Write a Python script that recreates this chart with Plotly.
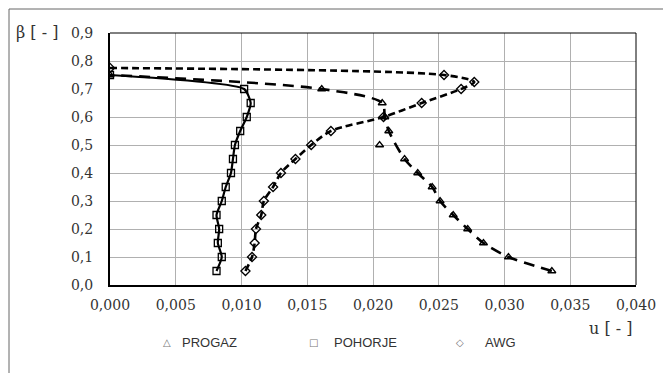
import plotly.graph_objects as go

beta = [0.05, 0.10, 0.15, 0.20, 0.25, 0.30, 0.35, 0.40, 0.45, 0.50, 0.55, 0.60, 0.65, 0.70, 0.75]

progaz_u = [0.0336, 0.0303, 0.0284, 0.0272, 0.0261, 0.0251, 0.0245, 0.0234, 0.0224, 0.0205, 0.0212, 0.0209, 0.0207, 0.0161, 0.0]
pohorje_u = [0.0081, 0.0085, 0.0082, 0.0083, 0.0081, 0.0085, 0.0088, 0.0092, 0.00935, 0.0095, 0.0099, 0.0104, 0.0107, 0.0102, 0.0]

awg_beta = [0.05, 0.10, 0.15, 0.20, 0.25, 0.30, 0.35, 0.40, 0.45, 0.50, 0.55, 0.60, 0.65, 0.70, 0.725, 0.75, 0.775]
awg_u = [0.0103, 0.0108, 0.0110, 0.0111, 0.0115, 0.0117, 0.0124, 0.0130, 0.0141, 0.0153, 0.0168, 0.0208, 0.0237, 0.0267, 0.0277, 0.0254, 0.0]

# PROGAZ line omits the off-curve point at beta = 0.5
progaz_line_skip = [0.50]

series_names = ["PROGAZ", "POHORJE", "AWG"]
legend_glyphs = ["△", "□", "◇"]

x_ticks = [0, 0.005, 0.010, 0.015, 0.020, 0.025, 0.030, 0.035, 0.040]
y_ticks = [0, 0.1, 0.2, 0.3, 0.4, 0.5, 0.6, 0.7, 0.8, 0.9]

SERIF = "DejaVu Serif"
SANS = "Liberation Sans"

fig = go.Figure()

pl = [(u, b) for u, b in zip(progaz_u, beta) if b not in progaz_line_skip]
fig.add_trace(go.Scatter(x=[p[0] for p in pl], y=[p[1] for p in pl], mode="lines",
                         line=dict(color="black", width=2.6, dash="11px,7px", shape="spline", smoothing=0.8),
                         showlegend=False, hoverinfo="skip"))
fig.add_trace(go.Scatter(x=pohorje_u, y=beta, mode="lines",
                         line=dict(color="black", width=2.2, shape="spline", smoothing=0.55),
                         showlegend=False, hoverinfo="skip"))
fig.add_trace(go.Scatter(x=awg_u, y=awg_beta, mode="lines",
                         line=dict(color="black", width=2.6, dash="7px,4px", shape="spline", smoothing=0.8),
                         showlegend=False, hoverinfo="skip"))

mk = dict(color="black", size=7, line=dict(width=1.3, color="black"))
fig.add_trace(go.Scatter(x=progaz_u, y=beta, mode="markers", name=series_names[0], showlegend=False,
                         marker=dict(symbol="triangle-up-open", **mk)))
fig.add_trace(go.Scatter(x=pohorje_u, y=beta, mode="markers", name=series_names[1], showlegend=False,
                         marker=dict(symbol="square-open", **mk)))
fig.add_trace(go.Scatter(x=awg_u, y=awg_beta, mode="markers", name=series_names[2], showlegend=False,
                         marker=dict(symbol="diamond-open", **mk)))

W, L, T, H = 526, 110, 33, 252
def px(xp):
    return (xp - L) / W
def py(yp):
    return (T + H - yp) / H

annotations = [
    dict(text="β [ - ]", xref="paper", yref="paper", x=px(14), y=py(32),
         xanchor="left", yanchor="middle", showarrow=False,
         font=dict(family=SERIF, size=16, color="#333")),
    dict(text="u [ - ]", xref="paper", yref="paper", x=px(634), y=py(328),
         xanchor="right", yanchor="middle", showarrow=False,
         font=dict(family=SERIF, size=16, color="#333")),
]
# manual legend (gray open glyphs + names)
legend_sym_x = [167, 313, 460]
legend_txt_x = [180, 332, 483]
for g, n, sx, tx in zip(legend_glyphs, series_names, legend_sym_x, legend_txt_x):
    annotations.append(dict(text=g, xref="paper", yref="paper", x=px(sx), y=py(342),
                            xanchor="center", yanchor="middle", showarrow=False,
                            font=dict(family="DejaVu Sans", size=10, color="#777")))
    annotations.append(dict(text=n, xref="paper", yref="paper", x=px(tx), y=py(342),
                            xanchor="left", yanchor="middle", showarrow=False,
                            font=dict(family=SANS, size=13, color="#333")))

fig.update_layout(
    width=663, height=373,
    margin=dict(l=L, r=663 - L - W, t=T, b=373 - T - H, autoexpand=False),
    paper_bgcolor="white", plot_bgcolor="white",
    separators=", ",
    showlegend=False,
    font=dict(family=SERIF, size=13, color="#333"),
    xaxis=dict(range=[0, 0.040], tickvals=x_ticks, tickformat=".3f",
               showgrid=True, gridcolor="#b0b0b0", gridwidth=1, zeroline=False,
               showline=True, linecolor="black", linewidth=2,
               ticks="outside", ticklen=6, tickcolor="rgba(0,0,0,0)",
               tickfont=dict(family=SERIF, size=14, color="#333")),
    yaxis=dict(range=[0, 0.9], tickvals=y_ticks, tickformat=".1f",
               showgrid=True, gridcolor="#b0b0b0", gridwidth=1, zeroline=False,
               showline=True, linecolor="black", linewidth=2,
               ticks="outside", ticklen=12, tickcolor="rgba(0,0,0,0)",
               tickfont=dict(family=SERIF, size=14, color="#333")),
    shapes=[
        dict(type="line", xref="paper", yref="paper", x0=0, x1=1, y0=1, y1=1, line=dict(color="black", width=1)),
        dict(type="line", xref="paper", yref="paper", x0=1, x1=1, y0=0, y1=1, line=dict(color="black", width=1)),
        # outer frame (top and left)
        dict(type="line", xref="paper", yref="paper", x0=px(9), x1=px(663), y0=py(9), y1=py(9),
             line=dict(color="#666", width=1)),
        dict(type="line", xref="paper", yref="paper", x0=px(9), x1=px(9), y0=py(9), y1=py(373),
             line=dict(color="#666", width=1)),
    ],
    annotations=annotations,
)

fig.write_html("out.html")
